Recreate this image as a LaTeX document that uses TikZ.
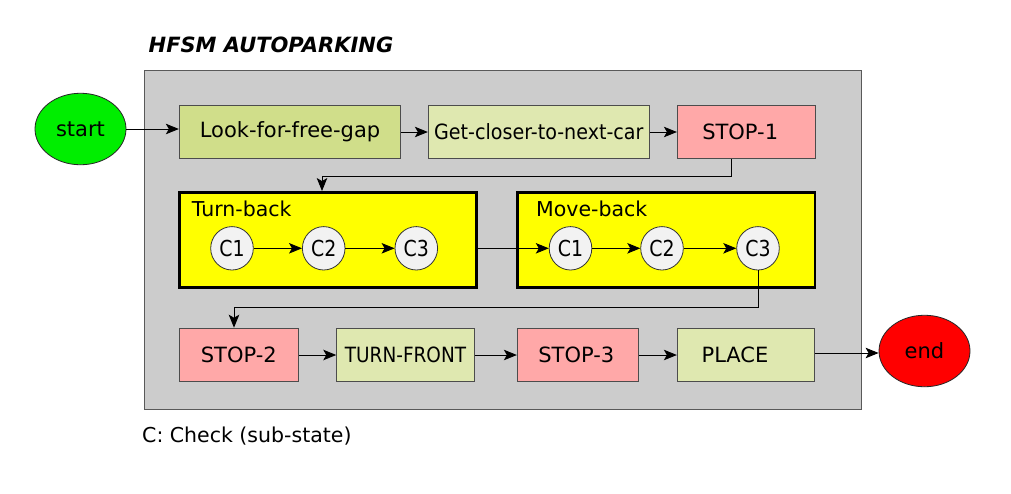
\documentclass[tikz,border=0pt]{standalone}
\usepackage{fontspec}
\usepackage{graphicx}
\setmainfont{DejaVu Sans}
\usetikzlibrary{arrows.meta,shapes.geometric}
\definecolor{gframe}{HTML}{CCCCCC}
\definecolor{lookc}{HTML}{D0DE8A}
\definecolor{lightg}{HTML}{DFE8B0}
\definecolor{pinkc}{HTML}{FFA8A8}
\definecolor{startc}{HTML}{00EE00}
\definecolor{endc}{HTML}{FF0000}
\definecolor{circc}{HTML}{F2F2F2}
\definecolor{superc}{HTML}{FFFF00}
\tikzset{
  box/.style={draw=black!70, line width=0.9pt, inner sep=0pt, font=\fontsize{21}{25}\selectfont},
  superbox/.style={draw=black, line width=2.5pt, fill=superc, inner sep=0pt},
  chk/.style={ellipse, draw=black!80, line width=0.8pt, fill=circc, minimum width=42.6, minimum height=43.4, inner sep=0pt, font=\fontsize{22}{26}\selectfont},
  term/.style={ellipse, draw=black!85, line width=0.8pt, inner sep=0pt, minimum width=91, minimum height=71.5, font=\fontsize{21}{25}\selectfont},
  arr/.style={draw=black, line width=0.9pt, -{Stealth[length=13pt,width=10.5pt,inset=3pt]}},
  lbl/.style={anchor=base west, inner sep=0pt, font=\fontsize{20.5}{24}\selectfont}
}
\begin{document}
\begin{tikzpicture}[x=1pt,y=-1pt]
\useasboundingbox (0,0) rectangle (1011,493);
\fill[white] (0,0) rectangle (1011,493);

% title
\node[anchor=base west, inner sep=0pt, font=\bfseries\itshape\fontsize{21}{25}\selectfont] (title) at (148.5,52) {HFSM AUTOPARKING};

% frame
\node[draw=black!65, fill=gframe, line width=1pt, inner sep=0pt, minimum width=717, minimum height=339] (frame) at (502.5,239.5) {};

% terminals
\node[term, fill=startc] (start) at (80.5,129) {start};
\node[term, fill=endc] (end) at (924.5,351) {end};

% top row
\node[box, fill=lookc, minimum width=221.4, minimum height=53.4] (look) at (290,132) {Look-for-free-gap};
\node[box, fill=lightg, minimum width=221, minimum height=53.7] (get) at (538.8,132) {\scalebox{0.91}[1]{Get-closer-to-next-car}};
\node[box, fill=pinkc, minimum width=137.7, minimum height=53.7] (stop1) at (746.2,132) {STOP-1\kern12pt\relax};

% super-states
\node[superbox, minimum width=297.4, minimum height=95] (tb) at (328,239.8) {};
\node[superbox, minimum width=297.7, minimum height=95] (mb) at (666.2,239.8) {};
\node[lbl] (tblabel) at (191.7,216.7) {Turn-back};
\node[lbl] (mblabel) at (536,216.7) {Move-back};

% checks
\node[chk] (tc1) at (232,248.3) {\scalebox{0.86}[1]{C1}};
\node[chk] (tc2) at (323.7,248.3) {\scalebox{0.86}[1]{C2}};
\node[chk] (tc3) at (416.3,248.3) {\scalebox{0.86}[1]{C3}};
\node[chk] (mc1) at (570.5,248.3) {\scalebox{0.86}[1]{C1}};
\node[chk] (mc2) at (662,248.3) {\scalebox{0.86}[1]{C2}};
\node[chk] (mc3) at (758,248.3) {\scalebox{0.86}[1]{C3}};

% bottom row
\node[box, fill=pinkc, minimum width=119, minimum height=53.7] (stop2) at (238.8,355) {STOP-2};
\node[box, fill=lightg, minimum width=137.6, minimum height=53.7] (turnf) at (405.5,355) {\scalebox{0.88}[1]{TURN-FRONT}};
\node[box, fill=pinkc, minimum width=121, minimum height=53.4] (stop3) at (577.8,355) {STOP-3\kern3pt\relax};
\node[box, fill=lightg, minimum width=137.4, minimum height=53.4] (place) at (746,355) {PLACE\kern22pt\relax};

% legend
\node[anchor=base west, inner sep=0pt, font=\fontsize{20.5}{24}\selectfont] (legend) at (142,442) {C: Check (sub-state)};

% connectors
\draw[arr] (start.east) -- (start.east -| look.west);
\draw[arr] (look) -- (get);
\draw[arr] (get) -- (stop1);
\coordinate (k1) at (731,176);
\coordinate (k2) at (322,176);
\draw[arr] (stop1.south -| k1) -- (k1) -- (k2) -- (k2 |- tb.north);
\draw[arr] (tc1) -- (tc2);
\draw[arr] (tc2) -- (tc3);
\draw[arr] (tb.east |- mc1) -- (mc1);
\draw[arr] (mc1) -- (mc2);
\draw[arr] (mc2) -- (mc3);
\coordinate (k3) at (758,307);
\coordinate (k4) at (234,307);
\draw[arr] (mc3) -- (k3) -- (k4) -- (k4 |- stop2.north);
\draw[arr] (stop2) -- (turnf);
\draw[arr] (turnf) -- (stop3);
\draw[arr] (stop3) -- (place);
\coordinate (k5) at (814.7,353);
\draw[arr] (place.east |- k5) -- (end.west |- k5);
\end{tikzpicture}
\end{document}
